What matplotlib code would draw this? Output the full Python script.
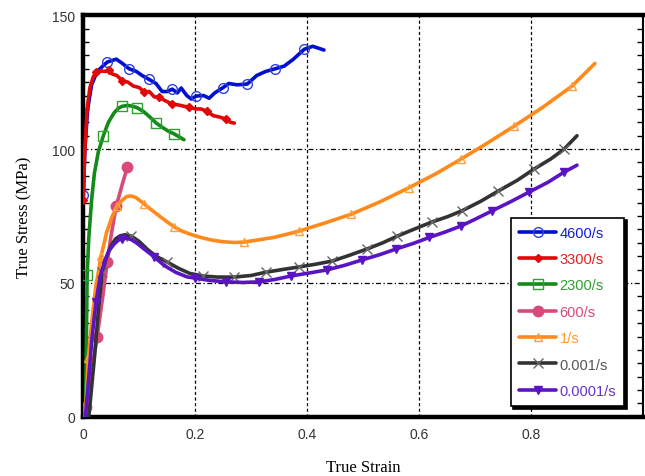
import matplotlib
matplotlib.use("Agg")
import matplotlib.pyplot as plt
from matplotlib.ticker import MultipleLocator

# ---- data ----
labels = ["4600/s", "3300/s", "2300/s", "600/s", "1/s", "0.001/s", "0.0001/s"]

x_4600 = [0.0, 0.003, 0.008, 0.015, 0.025, 0.035, 0.043, 0.059, 0.07, 0.082, 0.095, 0.105, 0.118, 0.13, 0.141,
          0.15, 0.159, 0.168, 0.175, 0.185, 0.193, 0.202, 0.215, 0.225, 0.235, 0.25, 0.26, 0.275, 0.293, 0.31,
          0.326, 0.343, 0.359, 0.375, 0.395, 0.41, 0.43]
y_4600 = [83, 100, 115, 124, 129, 131, 132.5, 133.6, 132, 130, 129, 127.5, 126, 124.5, 121.5,
          121.5, 122.4, 121, 122.8, 120, 118.7, 119.8, 120, 119, 121, 123, 124.5, 124, 124.3, 127.5,
          129, 130, 131, 133.5, 137.3, 138.4, 137]
m_4600 = [0, 6, 9, 12, 16, 21, 25, 28, 31, 34]

x_3300 = [0.0, 0.003, 0.007, 0.012, 0.018, 0.023, 0.03, 0.04, 0.046, 0.052, 0.06, 0.07, 0.08, 0.09, 0.1,
          0.109, 0.118, 0.127, 0.136, 0.147, 0.159, 0.17, 0.18, 0.189, 0.2, 0.21, 0.221, 0.232, 0.243,
          0.255, 0.263, 0.27]
y_3300 = [81, 100, 115, 123, 127, 128.7, 129.2, 129, 129.6, 128, 127.5, 125.5, 125, 123.5, 123,
          121.3, 121.5, 119.5, 119.4, 118, 116.8, 116.5, 116, 115.7, 115, 115, 114.2, 112.5, 112,
          111.2, 110, 109.7]
m_3300 = [0, 5, 8, 11, 15, 18, 20, 23, 26, 29]

x_2300 = [0.004, 0.0055, 0.007, 0.01, 0.015, 0.02, 0.027, 0.036, 0.045, 0.055, 0.063, 0.07, 0.08, 0.088,
          0.096, 0.108, 0.12, 0.13, 0.14, 0.152, 0.163, 0.172, 0.18]
y_2300 = [0, 25, 53, 67, 81, 91, 99, 105, 110, 113.5, 115.3, 116, 116.3, 116,
          115.5, 114, 111.8, 109.8, 108.3, 106.7, 105.6, 104.5, 103.5]
m_2300 = [2, 7, 11, 14, 17, 20]

x_600 = [0.003, 0.005, 0.015, 0.025, 0.035, 0.043, 0.05, 0.059, 0.07, 0.079]
y_600 = [0, 3.7, 17, 30, 45, 58, 68, 78.7, 87, 93.3]
m_600 = [1, 3, 5, 7, 9]

x_1 = [0.004, 0.009, 0.015, 0.022, 0.032, 0.042, 0.052, 0.061, 0.07, 0.078, 0.086, 0.095, 0.109, 0.122,
       0.136, 0.15, 0.163, 0.175, 0.19, 0.21, 0.23, 0.25, 0.27, 0.288, 0.31, 0.34, 0.36, 0.386, 0.43,
       0.479, 0.53, 0.582, 0.63, 0.675, 0.72, 0.77, 0.82, 0.873, 0.914]
y_1 = [0, 22, 35, 48, 60, 69, 75, 78.7, 81, 82.3, 82.5, 81.8, 79.5, 77.3,
       75, 72.8, 70.9, 69.5, 68.3, 67, 66, 65.4, 65.1, 65.3, 66, 67, 68, 69.4, 72.3,
       75.7, 80.3, 85.6, 90.8, 96.3, 102, 108.6, 115.5, 123.5, 132]
m_1 = [1, 4, 7, 12, 16, 23, 27, 29, 31, 33, 35, 37]

x_0001 = [0.01, 0.02, 0.028, 0.034, 0.042, 0.05, 0.058, 0.066, 0.075, 0.086, 0.1, 0.115, 0.13, 0.15, 0.17,
          0.19, 0.214, 0.24, 0.27, 0.3, 0.326, 0.355, 0.386, 0.415, 0.445, 0.475, 0.507, 0.535, 0.561,
          0.59, 0.623, 0.65, 0.677, 0.71, 0.741, 0.775, 0.805, 0.835, 0.859, 0.882]
y_0001 = [0, 22, 42, 54, 60, 64, 66.5, 67.6, 68, 67.5, 65.5, 62.5, 60, 57.8, 55.5,
          53.6, 52.6, 52.2, 52.2, 52.8, 54, 55, 56, 57, 58.2, 60.3, 62.7, 65, 67.5,
          70, 72.8, 74.7, 77, 80.5, 84.3, 88.3, 92.5, 96.3, 100, 105]
m_0001 = [3, 9, 13, 16, 18, 20, 22, 24, 26, 28, 30, 32, 34, 36, 38]

x_00001 = [0.004, 0.01, 0.016, 0.023, 0.03, 0.038, 0.046, 0.055, 0.063, 0.07, 0.077, 0.085, 0.095, 0.11,
           0.127, 0.145, 0.165, 0.185, 0.2, 0.225, 0.255, 0.285, 0.314, 0.342, 0.371, 0.4, 0.436, 0.467,
           0.498, 0.53, 0.559, 0.59, 0.618, 0.646, 0.675, 0.7, 0.73, 0.763, 0.796, 0.83, 0.859, 0.882]
y_00001 = [0, 15, 30, 43, 52, 58, 62, 64.5, 66, 66.4, 66.7, 66.3, 65, 62.5,
           59.7, 56.5, 54, 52.3, 51.8, 51, 50.4, 50.2, 50.4, 51.3, 52.6, 53.6, 54.9, 56.6,
           58.6, 60.6, 62.7, 64.8, 67, 69, 71.3, 73.8, 76.9, 80.3, 83.9, 87.6, 91.4, 94]
m_00001 = [3, 9, 14, 18, 20, 22, 24, 26, 28, 30, 32, 34, 36, 38, 40]

x_ticks = [0, 0.2, 0.4, 0.6, 0.8]
x_ticklabels = ["0", "0.2", "0.4", "0.6", "0.8"]
y_ticks = [0, 50, 100, 150]

# ---- style ----
series = [
    (x_4600, y_4600, m_4600, "#0010CC", dict(marker="o", mfc="none", mec="#3040E0", ms=7, mew=1.0)),
    (x_3300, y_3300, m_3300, "#E00808", dict(marker="D", mfc="#E00808", mec="#E00808", ms=4.5)),
    (x_2300, y_2300, m_2300, "#138A1A", dict(marker="s", mfc="none", mec="#30A030", ms=7, mew=1.0)),
    (x_600, y_600, m_600, "#D84B78", dict(marker="o", mfc="#D84B78", mec="#D84B78", ms=7.5)),
    (x_1, y_1, m_1, "#FF8A1C", dict(marker="^", mfc="none", mec="#FFA040", ms=5.5, mew=1.0)),
    (x_0001, y_0001, m_0001, "#333333", dict(marker="x", mfc="#666666", mec="#666666", ms=7, mew=1.0)),
    (x_00001, y_00001, m_00001, "#5A14C4", dict(marker="v", mfc="#5A14C4", mec="#5A14C4", ms=5.5)),
]
text_colors = ["#1020D0", "#E02020", "#30A030", "#D84B78", "#FF9A30", "#555555", "#6A30D0"]

fig = plt.figure(figsize=(6.45, 4.77), dpi=100)
ax = fig.add_axes([0.129, 0.124, 0.868, 0.842])

handles = []
for (xs, ys, mk, col, mstyle), lab in zip(series, labels):
    h, = ax.plot(xs, ys, color=col, lw=2.6, markevery=mk, label=lab, solid_capstyle="round",
                 zorder=3, **mstyle)
    handles.append(h)

ax.set_xlim(0, 1.0)
ax.set_ylim(0, 150)
ax.set_xticks(x_ticks)
ax.set_xticklabels(x_ticklabels)
ax.set_yticks(y_ticks)
ax.yaxis.set_minor_locator(MultipleLocator(5))

for xv in x_ticks[1:]:
    ax.axvline(xv, color="black", lw=0.9, ls=(0, (2.5, 2)), zorder=1)
for yv in [50, 100]:
    ax.axhline(yv, color="black", lw=0.9, ls=(0, (4, 2, 1, 2)), zorder=1)

for s in ["left", "bottom", "top"]:
    ax.spines[s].set_linewidth(3.2)
ax.spines["right"].set_linewidth(1.5)

ax.tick_params(axis="x", which="both", length=0, pad=7, labelsize=10, labelcolor="#333333")
ax.tick_params(axis="y", which="major", length=0, pad=6, labelsize=10, labelcolor="#333333")
ax.tick_params(axis="y", which="minor", direction="in", length=4, width=1, left=True, right=True)
for lab in ax.get_xticklabels() + ax.get_yticklabels():
    lab.set_family("Liberation Sans")

ax.set_xlabel("True Strain", family="Liberation Serif", fontsize=12, labelpad=13)
ax.set_ylabel("True Stress (MPa)", family="Liberation Serif", fontsize=12, labelpad=14)

leg = ax.legend(handles=handles, loc="lower right", bbox_to_anchor=(0.966, 0.027),
                frameon=True, fancybox=False, shadow={"color": "black", "alpha": 1.0},
                handlelength=2.6, handletextpad=0.2, labelspacing=0.85, borderpad=0.55,
                borderaxespad=0.0,
                prop={"family": "Liberation Sans", "size": 10.5})
leg.get_frame().set_edgecolor("black")
leg.get_frame().set_linewidth(1.2)
for t, c in zip(leg.get_texts(), text_colors):
    t.set_color(c)

fig.savefig("out.png", dpi=100)
